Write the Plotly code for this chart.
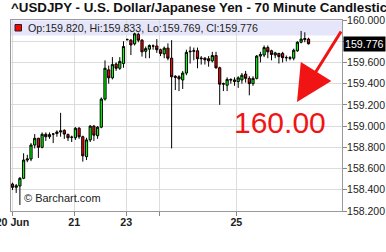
import plotly.graph_objects as go

# ---------------- data ----------------
title_text = "^USDJPY - U.S. Dollar/Japanese Yen - 70 Minute Candlestick Chart"
candle_idx = list(range(81))
opens = [158.454, 158.423, 158.436, 158.508, 158.680, 158.690, 158.822, 158.885, 158.800, 158.923,
         158.900, 158.925, 158.930, 158.945, 158.960, 158.920, 158.895, 158.890, 158.980, 158.900,
         158.712, 158.870, 159.000, 158.910, 158.990, 159.255, 159.530, 159.455, 159.585, 159.545,
         159.590, 159.815, 159.810, 159.775, 159.865, 159.810, 159.705, 159.725, 159.755, 159.755,
         159.720, 159.680, 159.735, 159.640, 159.470, 159.465, 159.435, 159.500, 159.700, 159.705,
         159.710, 159.635, 159.640, 159.635, 159.615, 159.665, 159.550, 159.395, 159.385, 159.440,
         159.435, 159.420, 159.435, 159.490, 159.450, 159.400, 159.450, 159.660, 159.670, 159.740,
         159.710, 159.670, 159.685, 159.685, 159.645, 159.645, 159.640, 159.710, 159.790, 159.815,
         159.820]
highs = [158.467, 158.455, 158.520, 158.744, 158.730, 158.840, 158.925, 158.890, 158.940, 158.940,
         158.940, 158.935, 158.960, 159.125, 158.970, 158.930, 158.910, 158.990, 158.990, 158.910,
         158.890, 159.010, 159.010, 159.000, 159.270, 159.620, 159.570, 159.650, 159.600, 159.650,
         159.800, 159.825, 159.820, 159.880, 159.880, 159.820, 159.750, 159.770, 159.770, 159.820,
         159.730, 159.750, 159.780, 159.810, 159.480, 159.480, 159.520, 159.720, 159.750, 159.740,
         159.740, 159.660, 159.650, 159.660, 159.700, 159.700, 159.560, 159.410, 159.460, 159.450,
         159.460, 159.470, 159.500, 159.520, 159.470, 159.470, 159.670, 159.700, 159.760, 159.760,
         159.720, 159.700, 159.690, 159.700, 159.665, 159.660, 159.730, 159.800, 159.897, 159.884,
         159.833]
lows = [158.398, 158.370, 158.257, 158.500, 158.660, 158.670, 158.790, 158.700, 158.790, 158.860,
        158.880, 158.840, 158.900, 158.900, 158.880, 158.860, 158.850, 158.870, 158.880, 158.665,
        158.680, 158.850, 158.860, 158.880, 158.980, 159.240, 159.400, 159.440, 159.520, 159.530,
        159.550, 159.810, 159.670, 159.760, 159.790, 159.655, 159.640, 159.640, 159.720, 159.690,
        159.660, 159.640, 159.620, 158.790, 159.340, 159.330, 159.350, 159.480, 159.590, 159.620,
        159.545, 159.580, 159.580, 159.560, 159.600, 159.540, 159.200, 159.330, 159.330, 159.400,
        159.380, 159.360, 159.400, 159.410, 159.290, 159.380, 159.440, 159.600, 159.650, 159.640,
        159.620, 159.640, 159.590, 159.600, 159.610, 159.620, 159.620, 159.700, 159.780, 159.790,
        159.769]
closes = [158.423, 158.438, 158.508, 158.680, 158.690, 158.822, 158.885, 158.800, 158.923, 158.900,
          158.920, 158.925, 158.945, 158.955, 158.925, 158.890, 158.895, 158.980, 158.900, 158.720,
          158.870, 159.000, 158.915, 158.990, 159.255, 159.545, 159.455, 159.580, 159.545, 159.610,
          159.750, 159.815, 159.765, 159.870, 159.810, 159.700, 159.730, 159.760, 159.755, 159.720,
          159.685, 159.735, 159.640, 159.465, 159.460, 159.445, 159.500, 159.695, 159.705, 159.710,
          159.635, 159.640, 159.625, 159.615, 159.665, 159.550, 159.395, 159.400, 159.440, 159.435,
          159.420, 159.455, 159.480, 159.450, 159.400, 159.450, 159.660, 159.675, 159.740, 159.700,
          159.675, 159.690, 159.655, 159.645, 159.645, 159.640, 159.715, 159.790, 159.820, 159.825,
          159.776]
x_tick_pos = [0, 16.7, 30.75, 39.7, 60.5]
x_tick_text = ["20 Jun", "21", "23", "", "25"]
y_ticks = [158.2, 158.4, 158.6, 158.8, 159.0, 159.2, 159.4, 159.6, 159.8, 160.0]
y_tick_text = ["158.200", "158.400", "158.600", "158.800", "159.000",
               "159.200", "159.400", "159.600", "", "160.000"]
legend_text = "Op:159.820, Hi:159.833, Lo:159.769, Cl:159.776"
last_price = 159.776
last_price_text = "159.776"
callout_text = "160.00"
credit_text = "© Barchart.com"

# ---------------- geometry helpers ----------------
W, H = 386, 252
PL, PR, PT, PB = 11, 342, 20, 211
def px(xp):
    return (xp - PL) / (PR - PL)
def py(yp):
    return (PB - yp) / (PB - PT)

FONT = "Liberation Sans, Arial, sans-serif"

fig = go.Figure()
fig.add_trace(go.Candlestick(
    x=candle_idx, open=opens, high=highs, low=lows, close=closes,
    increasing=dict(fillcolor="#00ff00", line=dict(color="black", width=1)),
    decreasing=dict(fillcolor="#ff0000", line=dict(color="black", width=1)),
    whiskerwidth=0, showlegend=False, hoverinfo="skip",
))

fig.update_layout(
    width=W, height=H,
    margin=dict(l=PL, r=W - PR, t=PT, b=H - PB, pad=0, autoexpand=False),
    paper_bgcolor="white", plot_bgcolor="white",
    font=dict(family=FONT, size=10.67, color="#222"),
    boxgap=0.15,
    showlegend=False,
    xaxis=dict(
        range=[-0.405, 89.05], tickmode="array", tickvals=x_tick_pos, ticktext=x_tick_text,
        showgrid=True, gridcolor="#dcdcdc", gridwidth=1, zeroline=False,
        ticks="outside", ticklen=4, tickcolor="#888",
        showline=True, linecolor="#999", linewidth=1, mirror=True,
        tickfont=dict(family=FONT, size=10.67, color="#222", weight="bold"),
        rangeslider=dict(visible=False), fixedrange=True,
        automargin=False, ticklabeloverflow="allow", ticklabelstandoff=-3,
    ),
    yaxis=dict(
        side="right", range=[158.2, 160.0], tickmode="array", tickvals=y_ticks, ticktext=y_tick_text,
        showgrid=True, gridcolor="#dcdcdc", gridwidth=1, zeroline=False,
        ticks="outside", ticklen=4, tickcolor="#888",
        showline=True, linecolor="#999", linewidth=1, mirror=True,
        tickfont=dict(family=FONT, size=10.5, color="#222"), fixedrange=True,
        automargin=False, ticklabeloverflow="allow", ticklabelstandoff=-2,
    ),
)

# legend band
fig.add_shape(type="rect", xref="paper", yref="paper", x0=0, x1=1, y0=py(35.5), y1=py(20.5),
              fillcolor="#e6e6fa", line=dict(width=0), layer="below")
fig.add_shape(type="rect", xref="paper", yref="paper", x0=px(15), x1=px(21.5), y0=py(31), y1=py(24.5),
              fillcolor="#ff0000", line=dict(color="#222", width=1))

ann = []
ann.append(dict(text=f"<b>{title_text}</b>", xref="paper", yref="paper", x=px(9), y=py(8),
                xanchor="left", yanchor="middle", showarrow=False,
                font=dict(family=FONT, size=13.33, color="#111")))
ann.append(dict(text=legend_text, xref="paper", yref="paper", x=px(26), y=py(28),
                xanchor="left", yanchor="middle", showarrow=False,
                font=dict(family=FONT, size=10.67, color="#222")))
ann.append(dict(text=credit_text, xref="paper", yref="paper", x=px(22), y=py(198),
                xanchor="left", yanchor="middle", showarrow=False,
                font=dict(family=FONT, size=11, color="#222")))
ann.append(dict(text=last_price_text, xref="paper", yref="y", x=1, y=last_price,
                xanchor="left", yanchor="middle", xshift=1, showarrow=False,
                bgcolor="black", borderpad=1,
                font=dict(family=FONT, size=10.67, color="white")))
ann.append(dict(text=callout_text, xref="paper", yref="paper", x=px(279.5), y=py(122),
                xanchor="center", yanchor="middle", showarrow=False,
                font=dict(family=FONT, size=30, color="#f01414")))
ann.append(dict(text="", xref="paper", yref="paper", x=px(297), y=py(102),
                showarrow=True, ax=45, ay=-72, arrowhead=2, arrowsize=2.4, arrowwidth=3,
                arrowcolor="#f01414", standoff=0))
fig.update_layout(annotations=ann)

fig.write_html("out.html", config={"displayModeBar": False, "staticPlot": True})
